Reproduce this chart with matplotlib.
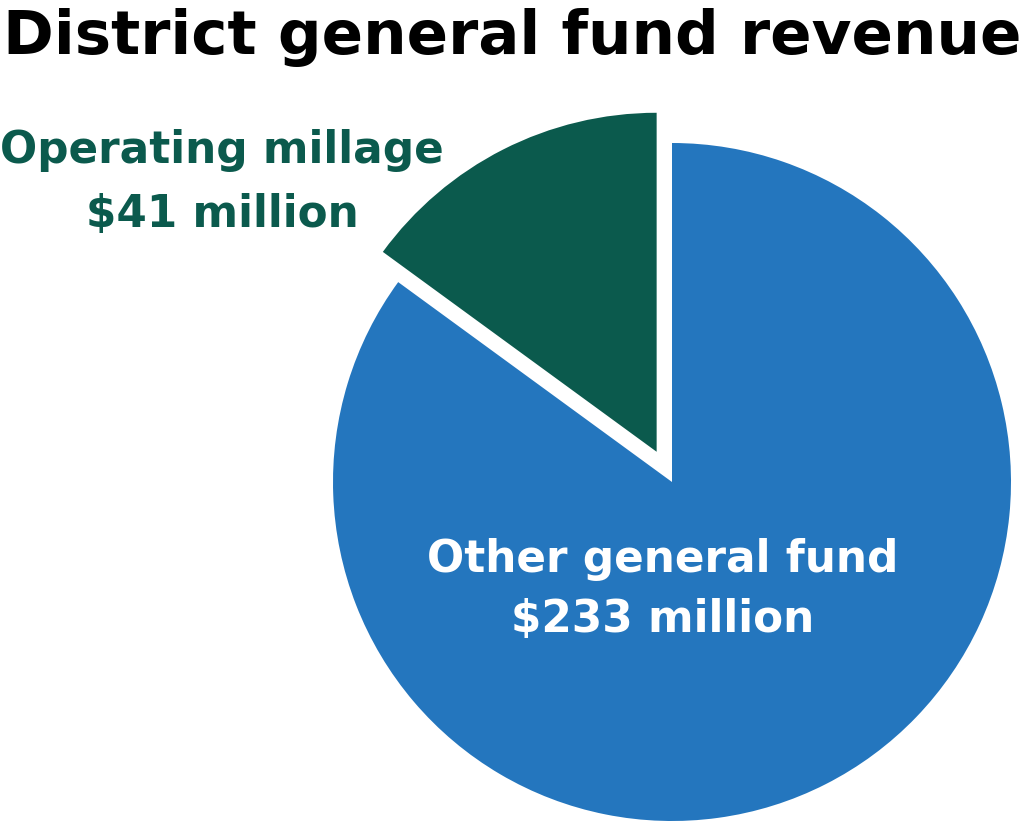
import matplotlib.pyplot as plt

title = 'District general fund revenue'
labels = [['Other general fund', '$233 million'], ['Operating millage', '$41 million']]
values = [233, 41]
colors = ['#2476BE', '#0B5A4D']

plt.rcParams['font.family'] = 'DejaVu Sans'
fig = plt.figure(figsize=(10.24, 8.22), dpi=100)
ax = fig.add_axes([0, 0, 1, 1])

# axes in pixel units, y up
r = 339
ax.pie(values[::-1], colors=colors[::-1], startangle=90, counterclock=True,
       explode=[0.1 * r, 0], center=(672, 340), radius=r, frame=True,
       wedgeprops=dict(linewidth=0))
ax.set_xlim(0, 1024)
ax.set_ylim(0, 822)
ax.set_aspect('equal')
ax.axis('off')

ax.text(512, 768, title, ha='center', va='baseline', fontsize=44,
        fontweight='bold', color='black')

for line, y in zip(labels[1], [659, 595]):
    ax.text(222, y, line, ha='center', va='baseline', fontsize=31.5,
            fontweight='bold', color=colors[1])
for line, y in zip(labels[0], [250, 190]):
    ax.text(663, y, line, ha='center', va='baseline', fontsize=31.5,
            fontweight='bold', color='white')

fig.savefig('out.png', dpi=100)
